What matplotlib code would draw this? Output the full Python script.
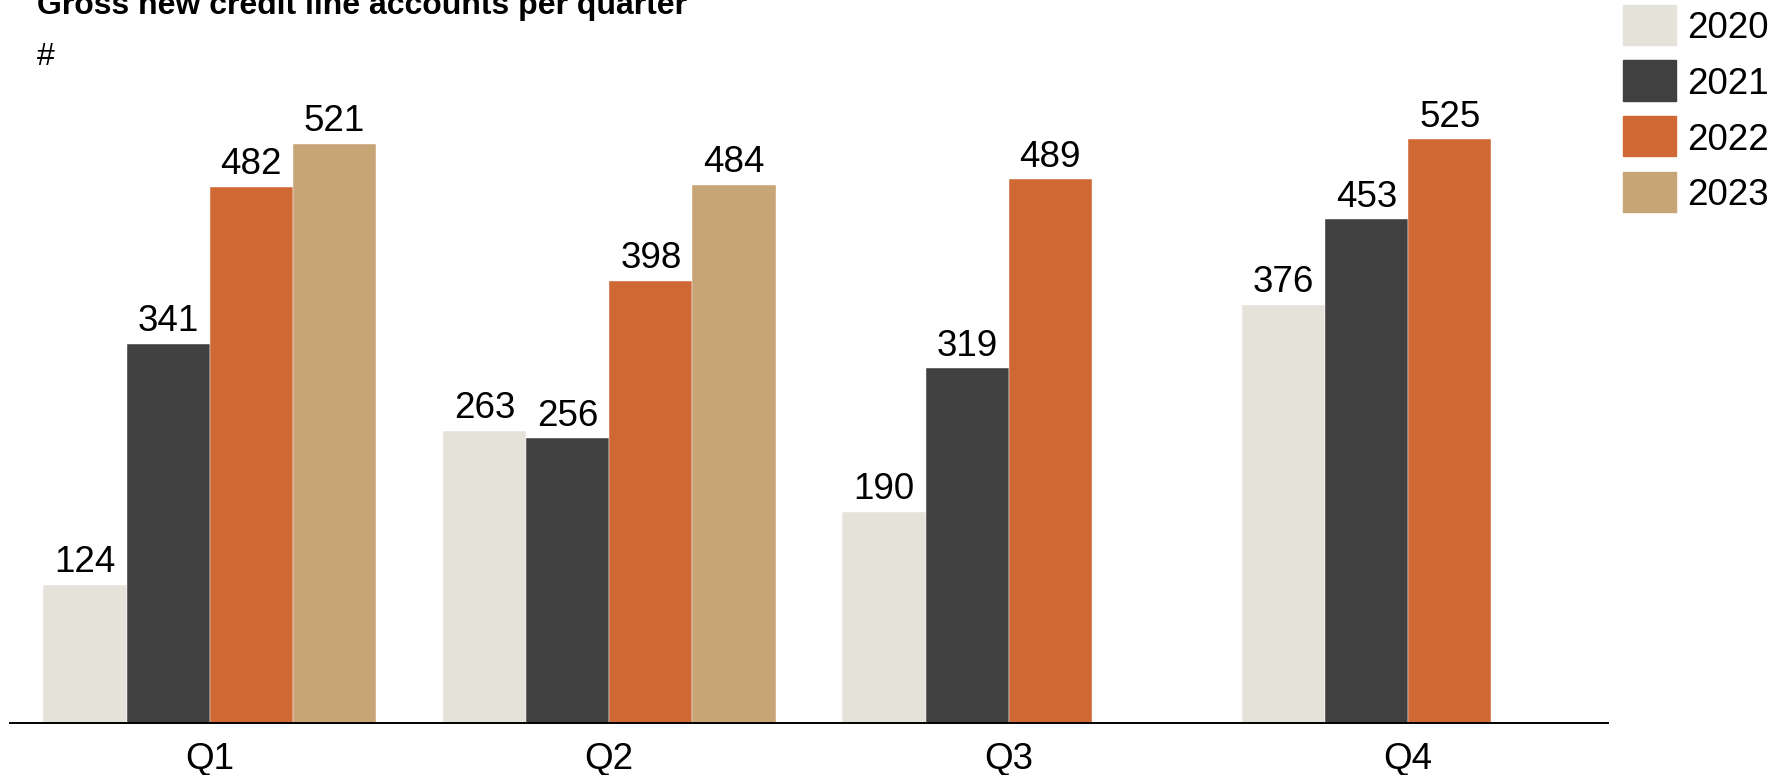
import matplotlib
matplotlib.use("Agg")
import matplotlib.pyplot as plt
from matplotlib.patches import Rectangle
import numpy as np

plt.rcParams['font.family'] = ['Liberation Sans', 'DejaVu Sans']

quarters = ["Q1", "Q2", "Q3", "Q4"]
years = ["2020", "2021", "2022", "2023"]
values = {
    "2020": [124, 263, 190, 376],
    "2021": [341, 256, 319, 453],
    "2022": [482, 398, 489, 525],
    "2023": [521, 484, None, None],
}
colors = {
    "2020": "#E5E2DA",
    "2021": "#404040",
    "2022": "#D06834",
    "2023": "#C8A577",
}
title = "Gross new credit line accounts per quarter"
unit_label = "#"

W, H = 1786, 775
fig = plt.figure(figsize=(W / 100, H / 100), dpi=100)
ax = fig.add_axes([10 / W, 52 / H, 1598 / W, 667 / H])

x = np.arange(len(quarters))
bw = 0.8333 / 4
for i, yr in enumerate(years):
    vals = values[yr]
    xs = [x[j] + (i - 1.5) * bw for j, v in enumerate(vals) if v is not None]
    vs = [v for v in vals if v is not None]
    bars = ax.bar(xs, vs, width=bw, color=colors[yr], edgecolor='white', linewidth=0.3)
    ax.bar_label(bars, labels=[str(v) for v in vs], padding=3.5, fontsize=26.5, color='black')

ax.set_xlim(-0.5, 3.5)
ax.set_ylim(0, 600)
ax.set_xticks(x)
ax.set_xticklabels(quarters, fontsize=26.5)
ax.tick_params(axis='x', length=0, pad=14)
ax.set_yticks([])
for s in ['top', 'right', 'left']:
    ax.spines[s].set_visible(False)
ax.spines['bottom'].set_linewidth(1.4)
ax.spines['bottom'].set_color('black')

# Title and unit
fig.text(37 / W, 1 - 14 / H, title, fontsize=23, fontweight='bold', ha='left', va='baseline')
fig.text(37 / W, 1 - 65 / H, unit_label, fontsize=23, ha='left', va='baseline')

# Legend
for k, yr in enumerate(years):
    top = 5 + k * 55.5
    fig.patches.append(Rectangle((1623 / W, 1 - (top + 40) / H), 53 / W, 40 / H,
                                 transform=fig.transFigure, color=colors[yr]))
    fig.text(1687 / W, 1 - (top + 20) / H, yr, fontsize=26.5, ha='left', va='center_baseline')

fig.savefig("out.png", dpi=100)
